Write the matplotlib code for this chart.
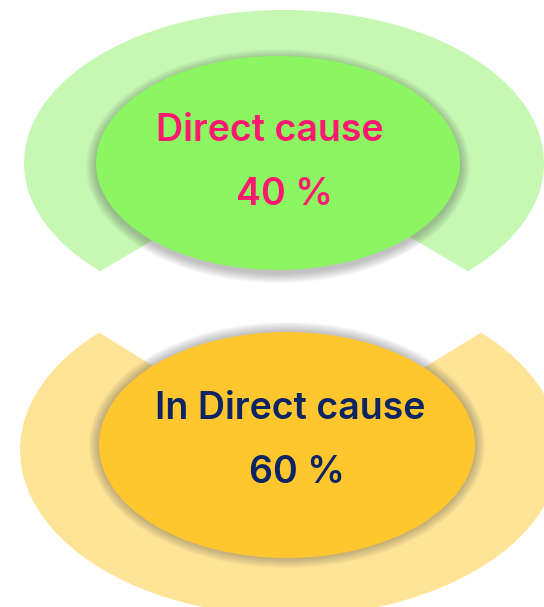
import matplotlib.pyplot as plt
from matplotlib.patches import Wedge, Ellipse

# labels and shares
labels = ["Direct cause", "In Direct cause"]
values = [40, 60]

ring_colors = ["#C6F8B3", "#FFE497"]
fill_colors = ["#8CF562", "#FFC62D"]
text_colors = ["#FF1770", "#0B2463"]

W, H = 544, 607
fig = plt.figure(figsize=(W / 100, H / 100), dpi=100)

# layout of each badge in pixels: outer ellipse (cx, cy, rx, ry), inner ellipse, ring angles, shadow offset
layout = [
    dict(outer=(284, 163, 260, 153), inner=(278, 163, 182, 107), theta=(-45, 225), shadow_dy=3,
         label_xy=(270, 131), value_xy=(284, 195)),
    dict(outer=(290, 450, 270, 166), inner=(287, 445, 188, 113), theta=(135, 405), shadow_dy=0,
         label_xy=(290, 409), value_xy=(297, 473)),
]

for i, lay in enumerate(layout):
    cx, cy, rx, ry = lay["outer"]
    ax = fig.add_axes([(cx - rx) / W, 1 - (cy + ry) / H, 2 * rx / W, 2 * ry / H])
    ax.set_xlim(-1, 1)
    ax.set_ylim(-1, 1)
    ax.axis("off")

    # light outer ring with a gap
    t1, t2 = lay["theta"]
    ax.add_patch(Wedge((0, 0), 1, t1, t2, width=0.42, color=ring_colors[i], lw=0))

    # inner ellipse in the ring's unit coords
    icx, icy, irx, iry = lay["inner"]
    ex = (icx - cx) / rx
    ey = -(icy - cy) / ry
    ew = 2 * irx / rx
    eh = 2 * iry / ry

    # soft shadow around the inner ellipse
    sdy = -lay["shadow_dy"] / ry
    for k in range(1, 11):
        ax.add_patch(Ellipse((ex, ey + sdy), ew + 2 * k / rx, eh + 2 * k / ry,
                             color="#444444", alpha=0.035, lw=0))

    ax.add_patch(Ellipse((ex, ey), ew, eh, color=fill_colors[i], lw=0))

# text layer in pixel coords
tx = fig.add_axes([0, 0, 1, 1])
tx.set_xlim(0, W)
tx.set_ylim(H, 0)
tx.axis("off")
tx.patch.set_alpha(0)

for i, lay in enumerate(layout):
    tx.text(*lay["label_xy"], labels[i], color=text_colors[i], fontsize=27,
            fontweight="semibold", family="Inter", ha="center", va="center")
    tx.text(*lay["value_xy"], f"{values[i]} %", color=text_colors[i], fontsize=27,
            fontweight="semibold", family="Inter", ha="center", va="center")

fig.savefig("out.png", dpi=100)
